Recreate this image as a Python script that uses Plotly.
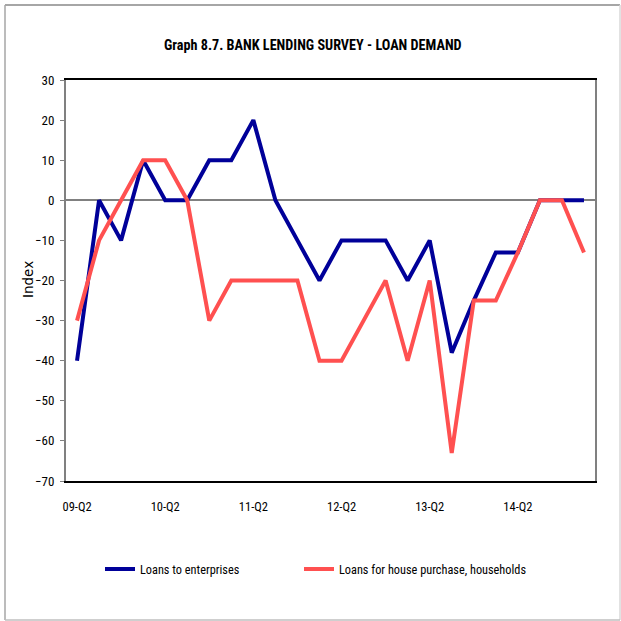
import plotly.graph_objects as go

# Quarterly survey periods, 2009 Q2 to 2015 Q1
quarters = [
    "09-Q2", "09-Q3", "09-Q4", "10-Q1", "10-Q2", "10-Q3", "10-Q4", "11-Q1",
    "11-Q2", "11-Q3", "11-Q4", "12-Q1", "12-Q2", "12-Q3", "12-Q4", "13-Q1",
    "13-Q2", "13-Q3", "13-Q4", "14-Q1", "14-Q2", "14-Q3", "14-Q4", "15-Q1",
]
shown_ticks = ["09-Q2", "10-Q2", "11-Q2", "12-Q2", "13-Q2", "14-Q2"]

enterprises = [
    -40, 0, -10, 10, 0, 0, 10, 10, 20, 0, -10, -20,
    -10, -10, -10, -20, -10, -38, -25, -13, -13, 0, 0, 0,
]
households = [
    -30, -10, 0, 10, 10, 0, -30, -20, -20, -20, -20, -40,
    -40, -30, -20, -40, -20, -63, -25, -25, -13, 0, 0, -13,
]

FONT = "Liberation Sans Narrow, Arial Narrow, Roboto Condensed, Liberation Sans, sans-serif"

idx = list(range(len(quarters)))
tick_idx = [quarters.index(q) for q in shown_ticks]

fig = go.Figure()
fig.add_trace(go.Scatter(
    x=idx, y=enterprises, mode="lines", name="Loans to enterprises",
    line=dict(color="#000099", width=4), legend="legend",
))
fig.add_trace(go.Scatter(
    x=idx, y=households, mode="lines", name="Loans for house purchase, households",
    line=dict(color="#ff5050", width=4), legend="legend2",
))

# outer frame around the whole chart (paper coords extend past the plot area)
L, R, T, B = 66, 595, 80, 481
W = R - L
H = B - T
def px_x(p):
    return (p - L) / W
def px_y(p):
    return (B - p) / H

frame = [
    (5, 5, 620, 5, "#a6a6a6", 2),
    (5, 5, 5, 620, "#a6a6a6", 1.5),
    (620, 5, 620, 620, "#d9d9d9", 1.5),
    (5, 620, 620, 620, "#bfbfbf", 1.5),
]
shapes = []
for x0, y0, x1, y1, c, w in frame:
    shapes.append(dict(
        type="line", xref="paper", yref="paper",
        x0=px_x(x0), y0=px_y(y0), x1=px_x(x1), y1=px_y(y1),
        line=dict(color=c, width=w),
    ))

legend_common = dict(
    orientation="h", yanchor="middle", y=px_y(569), xanchor="left",
    font=dict(family=FONT, size=12.3, color="#000000"),
    itemwidth=30, bgcolor="rgba(0,0,0,0)",
)

fig.update_layout(
    width=621, height=621,
    margin=dict(l=L, r=621 - R, t=T, b=621 - B),
    paper_bgcolor="white", plot_bgcolor="white",
    font=dict(family=FONT, size=12.5, color="#000000"),
    showlegend=True,
    legend=dict(legend_common, x=px_x(100)),
    legend2=dict(legend_common, x=px_x(299)),
    shapes=shapes,
    annotations=[
        dict(
            text="<b>Graph 8.7. BANK LENDING SURVEY - LOAN DEMAND</b>",
            xref="paper", yref="paper", x=px_x(313), y=px_y(45),
            xanchor="center", yanchor="middle", showarrow=False,
            font=dict(family=FONT, size=14.2, color="#000000"),
        ),
        dict(
            text="Index", textangle=-90,
            xref="paper", yref="paper", x=px_x(28), y=px_y(280),
            xanchor="center", yanchor="middle", showarrow=False,
            font=dict(family="DejaVu Sans, Verdana, sans-serif", size=13.5, color="#000000"),
        ),
    ],
)

fig.update_xaxes(
    range=[-0.5, len(quarters) - 0.5],
    tickmode="array", tickvals=tick_idx, ticktext=shown_ticks,
    showgrid=False, zeroline=False,
    showline=True, linecolor="#000000", linewidth=2, mirror=True,
    ticks="", ticklabelstandoff=13,
    tickfont=dict(family=FONT, size=12.5, color="#000000"),
)
fig.update_yaxes(
    range=[-70, 30], dtick=10,
    showgrid=False,
    zeroline=True, zerolinecolor="#808080", zerolinewidth=2,
    showline=True, linecolor="#808080", linewidth=2, mirror=True,
    ticks="outside", ticklen=4, tickcolor="#808080", tickwidth=1,
    ticklabelstandoff=3,
    tickfont=dict(family=FONT, size=13, color="#000000"),
)

fig.write_html("out.html")
